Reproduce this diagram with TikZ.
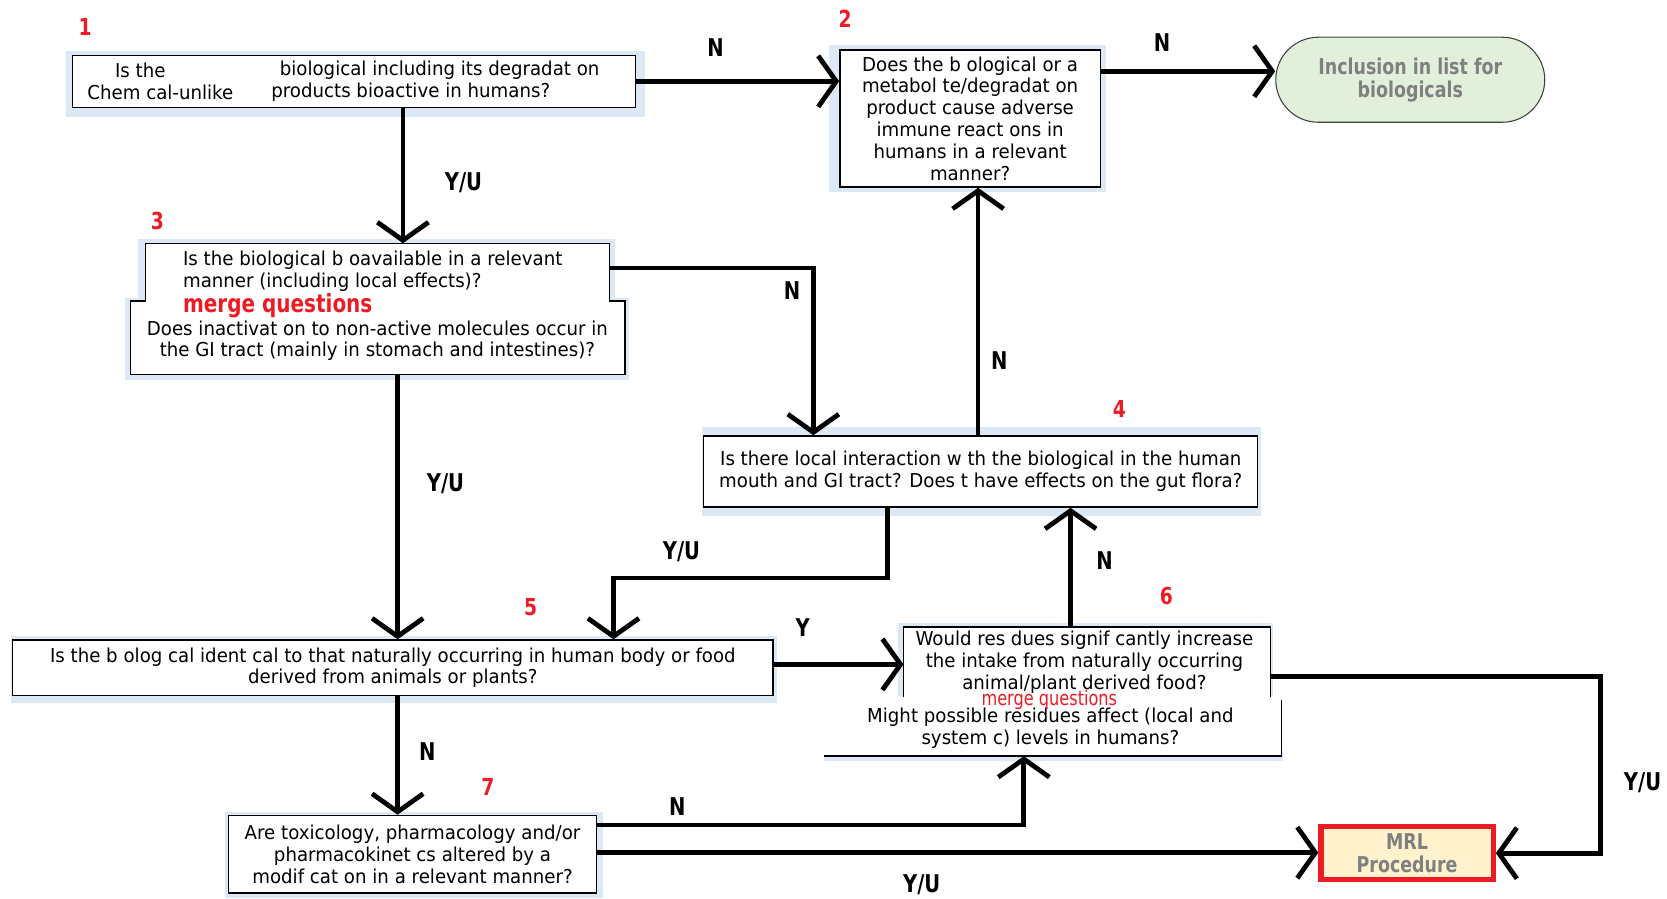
\documentclass[tikz,border=0pt]{standalone}
\usepackage{fontspec}
\setmainfont[FakeStretch=0.95]{DejaVu Sans}
\newfontfamily\lblfont[FakeStretch=0.8]{DejaVu Sans}
\usetikzlibrary{arrows.meta,calc}
\definecolor{bgblue}{RGB}{221,232,245}
\definecolor{numred}{RGB}{237,28,36}
\definecolor{inclgreen}{RGB}{226,239,218}
\definecolor{mrlfill}{RGB}{255,242,204}
\definecolor{grytxt}{RGB}{128,128,128}
\newcommand\boxfont{\fontsize{18}{20.5}\selectfont}
\begin{document}
\begin{tikzpicture}[x=1pt,y=-1pt,
  qbox/.style={draw=black, line width=1.3pt, fill=white, inner sep=0pt, align=center, font=\boxfont},
  plain/.style={inner sep=0pt, font=\boxfont},
  frame/.style={draw=black, line width=1.3pt},
  num/.style={text=numred, font=\lblfont\bfseries\fontsize{22}{24}\selectfont, inner sep=0pt},
  yn/.style={font=\lblfont\bfseries\fontsize{23}{25}\selectfont, inner sep=0pt},
  flow/.style={line width=4.5pt, -{Straight Barb[length=17pt,width=48pt,line width=4.5pt]}},
  endbox/.style={inner sep=0pt, align=center, text=grytxt, font=\lblfont\bfseries\fontsize{20.5}{21.5}\selectfont}
]
\useasboundingbox (0,0) rectangle (1568,845);

% light blue backgrounds
\fill[bgblue] (62,48) rectangle (607,110);
\fill[bgblue] (780,42) rectangle (1040,181);
\fill[bgblue] (130,225) rectangle (578,284);
\fill[bgblue] (118,280) rectangle (592,357);
\fill[bgblue] (660,402) rectangle (1186,485);
\fill[bgblue] (10,598) rectangle (731,661);
\fill[bgblue] (845,586) rectangle (1197,662);
\fill[bgblue] (775,706) rectangle (1207,716);
\fill[bgblue] (212,764) rectangle (567,845);

% box 1
\node[qbox, minimum width=530pt, minimum height=49pt] (b1) at (333,76.5) {};
\node[plain, align=left, anchor=west] (b1a) at (82,76.5) {\hspace*{26pt}Is the\\Chem cal-unlike};
\node[plain, align=left, anchor=west] (b1b) at (255,76.5) {\hspace*{8pt}biological  including  its degradat on\\products bioactive  in humans?};

% box 2
\node[qbox, minimum width=245pt, minimum height=129pt] (b2) at (912.5,111.5)
  {Does the b ological  or a\\metabol te/degradat on\\product cause adverse\\immune  react ons in\\humans  in a relevant\\manner?};

% inclusion
\node[draw=black!75, line width=1pt, fill=inclgreen, rounded corners=40pt, minimum width=253pt, minimum height=80pt, endbox] (incl) at (1326.5,75)
  {Inclusion  in list for\\biologicals};

% box 3 (merged)
\node[qbox, minimum width=465pt, minimum height=69pt] (b3) at (355.5,317.5) {};
\node[plain, align=center] (b3l) at (355,320.5)
  {Does inactivat on to non-active molecules  occur in\\the GI tract (mainly  in stomach and intestines)?};
\node[fill=white, inner sep=0pt, minimum width=436pt, minimum height=66pt] (b3u) at (355,262) {};
\draw[frame] ([yshift=12pt]b3u.south west) |- (b3u.north east) -- ([yshift=12pt]b3u.south east);
\node[plain, align=left, anchor=west] (b3t) at (172,255)
  {Is the biological  b oavailable  in a relevant\\manner  (including  local effects)?};
\node[inner sep=0pt, anchor=west, text=numred, font=\lblfont\bfseries\fontsize{23.5}{25}\selectfont] (m1) at (172,288) {merge questions};

% box 4
\node[qbox, minimum width=521pt, minimum height=67pt] (b4) at (922.5,443.5)
  {Is there local interaction w th the biological  in the human\\mouth  and GI tract? Does  t have effects on the gut flora?};

% box 5
\node[qbox, minimum width=715pt, minimum height=52pt] (b5) at (369.5,628)
  {Is the b olog cal ident cal to that naturally  occurring  in human  body or food\\derived from  animals  or plants?};

% box 6 (merged)
\node[fill=white, inner sep=0pt, minimum width=430pt, minimum height=56pt] (b6m) at (990,683) {};
\draw[frame] (b6m.south west) -- (b6m.south east) -- ([yshift=-4pt]b6m.north east);
\node[fill=white, inner sep=0pt, minimum width=345pt, minimum height=70pt] (b6) at (1022.5,625) {};
\draw[frame] ([yshift=5pt]b6.south west) |- (b6.north east) -- ([yshift=5pt]b6.south east);
\node[plain, align=center] (b6t) at (1020,623)
  {Would res dues  signif cantly  increase\\the intake from  naturally occurring\\animal/plant  derived  food?};
\node[plain, align=center] (b6u) at (988,685)
  {Might possible residues  affect (local and\\system c) levels in  humans?};
\node[inner sep=0pt, text=numred, font=\lblfont\fontsize{19}{21}\selectfont] (m2) at (987,658) {merge questions};

% box 7
\node[qbox, minimum width=346pt, minimum height=73pt] (b7) at (388,803.5)
  {Are toxicology, pharmacology  and/or\\pharmacokinet cs  altered by a\\modif cat on  in a relevant manner?};

% MRL
\node[draw=numred, line width=5pt, fill=mrlfill, minimum width=162pt, minimum height=50pt, endbox] (mrl) at (1323.5,802.5)
  {MRL\\Procedure};

% numbers
\node[num] (n1) at (80,25) {1};
\node[num] (n2) at (795,18) {2};
\node[num] (n3) at (148,208) {3};
\node[num] (n4) at (1053,385) {4};
\node[num] (n5) at (499,571) {5};
\node[num] (n6) at (1097,561) {6};
\node[num] (n7) at (459,740) {7};

% connector coordinates
\coordinate (c1) at ($(b1.south)+(46,0)$);
\coordinate (c2) at ($(b2.east)+(0,-44.5)$);
\coordinate (c3) at ($(b3u.east)+(0,-10)$);
\coordinate (c4in) at ($(b4.north)+(-157.5,0)$);
\coordinate (c5) at ($(b3.south)+(18.5,0)$);
\coordinate (c6) at ($(b4.north)+(-2.5,0)$);
\coordinate (c7) at ($(b4.south)+(-87.5,0)$);
\coordinate (c7b) at ($(b5.north)+(207.5,0)$);
\coordinate (c8) at ($(b5.east)+(0,-3)$);
\coordinate (c9) at ($(b5.south)+(4.5,0)$);
\coordinate (c10) at ($(b6.north)+(-15.5,0)$);
\coordinate (c11) at ($(b6.east)+(0,11)$);
\coordinate (c12) at ($(b7.east)+(0,-27.5)$);
\coordinate (c12b) at ($(b6m.south)+(-27,0)$);
\coordinate (c13) at ($(b7.east)+(0,-1.5)$);

% connectors
\draw[flow] (b1.east) -- (b1.east -| b2.west);
\draw[flow] (c1) -- (c1 |- b3u.north);
\draw[flow] (c2) -- (c2 -| incl.west);
\draw[flow] (c3) -| (c4in);
\draw[flow] (c5) -- (c5 |- b5.north);
\draw[flow] (c6) -- (c6 |- b2.south);
\draw[flow] (c7) -- ++(0,66) -| (c7b);
\draw[flow] (c8) -- (c8 -| b6.west);
\draw[flow] (c9) -- (c9 |- b7.north);
\draw[flow] (c10) -- (c10 |- b4.south);
\draw[flow] (c11) -- ++(310,0) |- (mrl.east);
\draw[flow] (c12) -| (c12b);
\draw[flow] (c13) -- (c13 -| mrl.west);

% connector labels
\node[yn] (l1) at (673,45) {N};
\node[yn] (l2) at (436,172) {Y/U};
\node[yn] (l3) at (1093,40) {N};
\node[yn] (l4) at (745,273) {N};
\node[yn] (l5) at (419,455) {Y/U};
\node[yn] (l6) at (940,339) {N};
\node[yn] (l7) at (641,519) {Y/U};
\node[yn] (l8) at (755,590) {Y};
\node[yn] (l9) at (402,707) {N};
\node[yn] (l10) at (1039,527) {N};
\node[yn] (l11) at (1545,736) {Y/U};
\node[yn] (l12) at (637,759) {N};
\node[yn] (l13) at (867,832) {Y/U};
\end{tikzpicture}
\end{document}
